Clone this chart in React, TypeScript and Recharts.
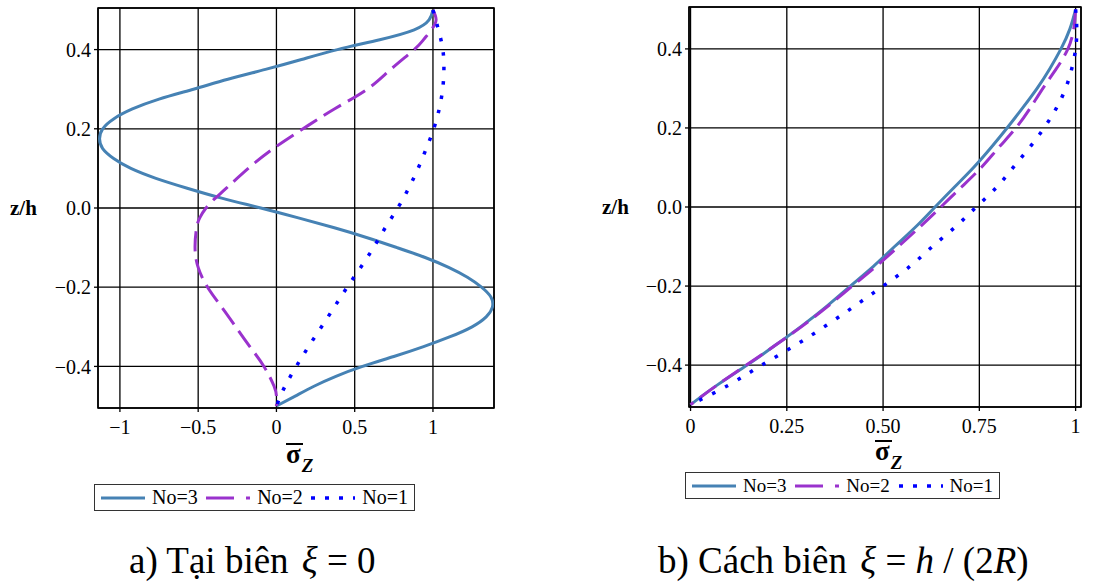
import { LineChart, Line, XAxis, YAxis, CartesianGrid, ReferenceArea, Legend, Label } from 'recharts';

const FONT = "'Liberation Serif', 'DejaVu Serif', serif";

// panel a) stress profile at the edge, xi = 0
const leftZ3 = [
  0.5, 0.475, 0.45, 0.425, 0.4, 0.375, 0.35, 0.325, 0.3, 0.275, 0.25, 0.225, 0.2, 0.175,
  0.15, 0.125, 0.1, 0.075, 0.05, 0.025, 0, -0.025, -0.05, -0.075, -0.1, -0.125, -0.15,
  -0.175, -0.2, -0.225, -0.25, -0.275, -0.3, -0.325, -0.35, -0.375, -0.4, -0.425, -0.45,
  -0.475, -0.5,
];
const leftS3 = [
  1.0, 0.975, 0.88, 0.66, 0.39, 0.16, -0.07, -0.31, -0.53, -0.75, -0.92, -1.04, -1.11, -1.13,
  -1.11, -1.04, -0.93, -0.77, -0.57, -0.35, -0.1, 0.14, 0.37, 0.58, 0.77, 0.95, 1.1,
  1.22, 1.31, 1.37, 1.38, 1.34, 1.25, 1.11, 0.94, 0.75, 0.55, 0.38, 0.24,
  0.12, 0,
];
const leftZ2 = [
  0.5, 0.475, 0.45, 0.425, 0.4, 0.35, 0.3, 0.25, 0.2, 0.15, 0.1, 0.05, 0.025, 0, -0.025,
  -0.05, -0.1, -0.15, -0.2, -0.25, -0.3, -0.35, -0.4, -0.45, -0.475, -0.5,
];
const leftS2 = [
  1.0, 1.02, 0.99, 0.94, 0.88, 0.73, 0.58, 0.37, 0.17, -0.02, -0.18, -0.32, -0.39, -0.45, -0.49,
  -0.51, -0.52, -0.5, -0.44, -0.35, -0.26, -0.17, -0.08, -0.015, 0, 0,
];
const leftZ1 = [
  0.5, 0.45, 0.4, 0.35, 0.3, 0.25, 0.2, 0.15, 0.1, 0.05, 0, -0.05, -0.1, -0.15, -0.2, -0.25,
  -0.3, -0.35, -0.4, -0.45, -0.5,
];
const leftS1 = [
  1.0, 1.035, 1.063, 1.07, 1.062, 1.04, 1.005, 0.957, 0.905, 0.845, 0.775, 0.695, 0.62, 0.538,
  0.452, 0.37, 0.288, 0.205, 0.127, 0.055, 0,
];
const leftXTicks = [-1, -0.5, 0, 0.5, 1];

// panel b) stress profile at xi = h / (2R) from the edge
const rightZ = [
  0.5, 0.45, 0.4, 0.35, 0.3, 0.25, 0.2, 0.15, 0.1, 0.05, 0, -0.05, -0.1, -0.15, -0.2, -0.25,
  -0.3, -0.35, -0.4, -0.45, -0.5,
];
const rightS3 = [
  1.0, 0.985, 0.962, 0.933, 0.9, 0.862, 0.822, 0.78, 0.735, 0.685, 0.635, 0.585, 0.53, 0.475,
  0.415, 0.355, 0.29, 0.22, 0.147, 0.07, 0,
];
const rightS2 = [
  1.0, 0.995, 0.98, 0.95, 0.915, 0.882, 0.845, 0.8, 0.755, 0.703, 0.65, 0.596, 0.54, 0.482,
  0.42, 0.358, 0.292, 0.22, 0.145, 0.07, 0,
];
const rightS1 = [
  1.0, 1.003, 1.0, 0.99, 0.974, 0.95, 0.918, 0.88, 0.838, 0.795, 0.742, 0.688, 0.628, 0.57,
  0.5, 0.427, 0.352, 0.272, 0.185, 0.1, 0,
];
const rightXTicks = [0, 0.25, 0.5, 0.75, 1];

const zTicks = [-0.4, -0.2, 0, 0.2, 0.4];
const seriesNames = ['No=3', 'No=2', 'No=1'];

const toPoints = (s: number[], z: number[]) => s.map((v, i) => ({ s: v, z: z[i] }));

const STYLES: Record<string, { color: string; width: number; dash?: string; sample?: string }> = {
  'No=3': { color: '#4682B4', width: 3 },
  'No=2': { color: '#9A32CD', width: 3, dash: '20 8', sample: '28 12 4 100' },
  'No=1': { color: '#0000FF', width: 3.5, dash: '3.5 11', sample: '4 10' },
};

const minus = (v: number, txt: string) => (v < 0 ? '\u2212' + txt.replace('-', '') : txt);
const fmtZ = (v: number) => minus(v, v.toFixed(1));
const fmtLeftX = (v: number) => minus(v, String(v));
const fmtRightX = (v: number) => (v === 0 || v === 1 ? String(v) : v.toFixed(2));

// eslint-disable-next-line @typescript-eslint/no-explicit-any
function SigmaLabel({ viewBox, dy }: any) {
  if (!viewBox) return null;
  const cx = viewBox.x + viewBox.width / 2;
  const base = viewBox.y + dy;
  return (
    <g>
      <line x1={cx - 10} x2={cx + 7} y1={base - 19} y2={base - 19} stroke="#000" strokeWidth={2} />
      <text x={cx - 10} y={base} style={{ fontFamily: FONT }} fontWeight="bold" fontSize={27} fill="#000">
        σ
        <tspan dx={1} dy={9} fontSize={19} fontStyle="italic">Z</tspan>
      </text>
    </g>
  );
}

// eslint-disable-next-line @typescript-eslint/no-explicit-any
function BoxLegend({ payload, fontSize }: any) {
  const items = seriesNames.filter((n) => (payload || []).some((p: { value: string }) => p.value === n));
  return (
    <div
      style={{
        display: 'flex', alignItems: 'center', justifyContent: 'space-between',
        border: '1.5px solid #333', background: '#fff', boxSizing: 'border-box',
        height: 27, padding: '0 6px', fontFamily: FONT, fontSize, color: '#000',
      }}
    >
      {items.map((name) => {
        const st = STYLES[name];
        return (
          <span key={name} style={{ display: 'flex', alignItems: 'center', gap: 7 }}>
            <svg width={44} height={10}>
              <line x1={0} x2={44} y1={5} y2={5} stroke={st.color} strokeWidth={st.width}
                strokeDasharray={st.sample} />
            </svg>
            <span>{name}</span>
          </span>
        );
      })}
    </div>
  );
}

interface PanelProps {
  left: number;
  width: number;
  top: number;
  yAxisWidth: number;
  marginRight: number;
  xAxisHeight: number;
  xDomain: [number, number];
  yDomain: [number, number];
  xTicks: number[];
  fmtX: (v: number) => string;
  yTickMargin: number;
  xTickMargin: number;
  zhOffset: number;
  sigmaDy: number;
  legendLeft: number;
  legendTop: number;
  legendWidth: number;
  legendFont: number;
  series: { name: string; data: { s: number; z: number }[] }[];
}

function Panel(p: PanelProps) {
  const tick = { fontSize: 20, fill: '#000', style: { fontFamily: FONT } };
  return (
    <LineChart
      width={p.width}
      height={540}
      margin={{ top: p.top, right: p.marginRight, left: 0, bottom: 540 - p.top - 400 - p.xAxisHeight }}
      style={{ position: 'absolute', left: p.left, top: 0 }}
    >
      <CartesianGrid stroke="#000" strokeWidth={1.3} />
      <XAxis
        type="number" dataKey="s" domain={p.xDomain} ticks={p.xTicks} tickFormatter={p.fmtX}
        allowDataOverflow height={p.xAxisHeight} axisLine={false} tickSize={4}
        tickLine={{ stroke: '#000', strokeWidth: 1.3 }} tickMargin={p.xTickMargin} tick={tick}
      >
        <Label content={<SigmaLabel dy={p.sigmaDy} />} />
      </XAxis>
      <YAxis
        type="number" dataKey="z" domain={p.yDomain} ticks={zTicks} tickFormatter={fmtZ}
        allowDataOverflow width={p.yAxisWidth} axisLine={false} tickSize={4}
        tickLine={{ stroke: '#000', strokeWidth: 1.3 }} tickMargin={p.yTickMargin} tick={tick}
      >
        <Label value="z/h" position="insideLeft" offset={p.zhOffset}
          style={{ fontWeight: 'bold', fontSize: 21, fill: '#000', fontFamily: FONT }} />
      </YAxis>
      <ReferenceArea x1={p.xDomain[0]} x2={p.xDomain[1]} y1={p.yDomain[0]} y2={p.yDomain[1]}
        fill="none" fillOpacity={0} stroke="#000" strokeWidth={1.6} />
      {p.series.map((s) => {
        const st = STYLES[s.name];
        return (
          <Line
            key={s.name}
            data={s.data}
            dataKey="z"
            name={s.name}
            type="natural"
            stroke={st.color}
            strokeWidth={st.width}
            strokeDasharray={st.dash}
            dot={false}
            activeDot={false}
            isAnimationActive={false}
          />
        );
      })}
      <Legend
        layout="horizontal" align="center" verticalAlign="middle"
        wrapperStyle={{ left: p.legendLeft, top: p.legendTop, width: p.legendWidth, height: 27 }}
        content={<BoxLegend fontSize={p.legendFont} />}
      />
    </LineChart>
  );
}

const captionStyle = {
  position: 'absolute' as const, top: 539, fontSize: 37, whiteSpace: 'pre' as const, color: '#000',
};

export default function App() {
  return (
    <div style={{ position: 'absolute', left: 0, top: 0, width: 1093, height: 585, background: '#fff', fontFamily: FONT }}>
      <Panel
        left={0} width={540} top={8} yAxisWidth={98} marginRight={46} xAxisHeight={63}
        xDomain={[-1.14, 1.39]} yDomain={[-0.505, 0.505]} xTicks={leftXTicks} fmtX={fmtLeftX}
        yTickMargin={3} xTickMargin={8} zhOffset={10} sigmaDy={55}
        legendLeft={94} legendTop={484} legendWidth={321} legendFont={20}
        series={seriesNames.map((name, i) => ({
          name,
          data: [toPoints(leftS3, leftZ3), toPoints(leftS2, leftZ2), toPoints(leftS1, leftZ1)][i],
        }))}
      />
      <Panel
        left={560} width={533} top={7} yAxisWidth={129} marginRight={12} xAxisHeight={73}
        xDomain={[-0.004, 1.014]} yDomain={[-0.506, 0.506]} xTicks={rightXTicks} fmtX={fmtRightX}
        yTickMargin={3} xTickMargin={8} zhOffset={42} sigmaDy={53}
        legendLeft={125} legendTop={472} legendWidth={315} legendFont={19}
        series={seriesNames.map((name, i) => ({
          name,
          data: [toPoints(rightS3, rightZ), toPoints(rightS2, rightZ), toPoints(rightS1, rightZ)][i],
        }))}
      />
      <div style={{ ...captionStyle, left: 129 }}>
        a) Tại biên <i style={{ marginLeft: 4 }}>ξ</i> = 0
      </div>
      <div style={{ ...captionStyle, left: 658 }}>
        b) Cách biên <i style={{ marginLeft: 4 }}>ξ</i> = <i>h</i> / (2<i>R</i>)
      </div>
    </div>
  );
}
